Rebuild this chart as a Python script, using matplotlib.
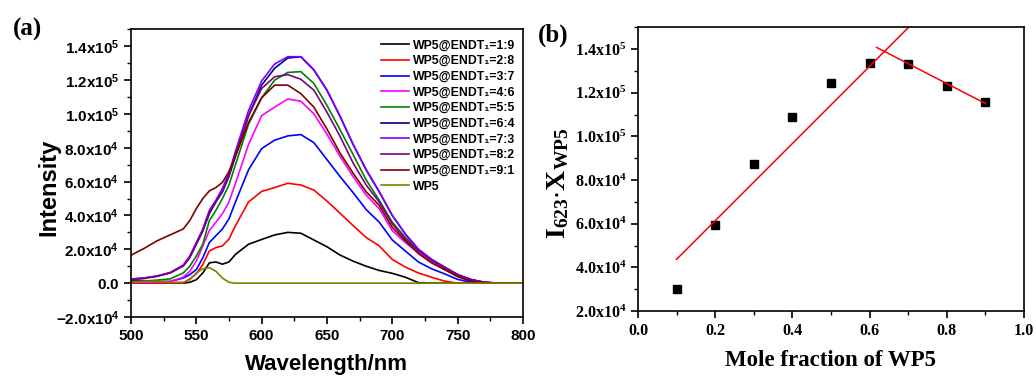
import numpy as np
import matplotlib
matplotlib.use("Agg")
import matplotlib.pyplot as plt
from matplotlib.ticker import MultipleLocator, FuncFormatter

# ---------------- data (panel a, intensity in units of 1e4) ----------------
wavelength = [500, 510, 520, 530, 540, 545, 550, 555, 560, 565,
              570, 575, 580, 590, 600, 610, 620, 630, 640, 650,
              660, 670, 680, 690, 700, 710, 720, 730, 740, 750,
              760, 770, 780, 790, 800]

r1_9 = [0, 0, 0, 0, 0, 0.05, 0.2, 0.6, 1.2, 1.25,
        1.12, 1.25, 1.7, 2.3, 2.58, 2.85, 3.0, 2.95, 2.55, 2.15,
        1.66, 1.3, 1.0, 0.75, 0.58, 0.35, 0.03, 0, 0, 0,
        0, 0, 0, 0, 0]
r2_8 = [0, 0, 0, 0, 0, 0.25, 0.55, 1.1, 1.9, 2.1,
        2.2, 2.6, 3.4, 4.8, 5.42, 5.65, 5.9, 5.8, 5.5, 4.85,
        4.13, 3.4, 2.7, 2.2, 1.4, 0.95, 0.6, 0.35, 0.12, 0,
        0, 0, 0, 0, 0]
r3_7 = [0.15, 0.15, 0.1, 0.1, 0.3, 0.5, 0.8, 1.5, 2.4, 2.8,
        3.2, 3.8, 4.8, 6.7, 7.95, 8.45, 8.7, 8.78, 8.3, 7.3,
        6.3, 5.35, 4.35, 3.6, 2.55, 1.9, 1.25, 0.85, 0.55, 0.22,
        0.06, 0, 0, 0, 0]
r4_6 = [0.05, 0.05, 0.06, 0.1, 0.35, 0.7, 1.3, 2.2, 3.1, 3.6,
        4.1, 4.8, 5.9, 8.2, 9.9, 10.4, 10.88, 10.75, 10.0, 8.8,
        7.49, 6.3, 5.2, 4.4, 3.1, 2.4, 1.8, 1.25, 0.8, 0.45,
        0.18, 0.04, 0, 0, 0]
r5_5 = [0.1, 0.12, 0.18, 0.25, 0.6, 1.0, 1.6, 2.3, 3.7, 4.3,
        5.0, 5.8, 7.0, 9.4, 10.95, 12.0, 12.45, 12.5, 11.8, 10.5,
        9.07, 7.6, 6.1, 4.9, 3.6, 2.7, 1.95, 1.4, 0.9, 0.5,
        0.2, 0.05, 0, 0, 0]
r6_4 = [0.24, 0.3, 0.42, 0.62, 1.05, 1.55, 2.3, 3.1, 4.1, 4.8,
        5.4, 6.3, 7.5, 9.9, 11.7, 12.7, 13.3, 13.38, 12.6, 11.4,
        9.86, 8.2, 6.7, 5.4, 4.0, 2.9, 2.0, 1.4, 0.95, 0.5,
        0.22, 0.06, 0, 0, 0]
r7_3 = [0.24, 0.3, 0.42, 0.62, 1.05, 1.6, 2.4, 3.2, 4.3, 4.9,
        5.6, 6.5, 7.8, 10.2, 11.95, 12.95, 13.38, 13.38, 12.6, 11.4,
        9.86, 8.2, 6.7, 5.4, 4.0, 2.9, 2.0, 1.4, 0.95, 0.5,
        0.22, 0.06, 0, 0, 0]
r8_2 = [0.2, 0.28, 0.4, 0.6, 1.0, 1.5, 2.3, 3.1, 4.2, 4.8,
        5.4, 6.4, 7.6, 9.9, 11.5, 12.2, 12.32, 12.05, 11.4, 10.1,
        8.68, 7.1, 5.8, 4.8, 3.5, 2.6, 1.9, 1.35, 0.9, 0.5,
        0.2, 0.05, 0, 0, 0]
r9_1 = [1.65, 2.05, 2.5, 2.85, 3.2, 3.7, 4.4, 5.0, 5.45, 5.65,
        5.95, 6.6, 7.5, 9.5, 10.95, 11.7, 11.7, 11.2, 10.4, 9.1,
        7.69, 6.5, 5.4, 4.6, 3.3, 2.5, 1.75, 1.2, 0.8, 0.38,
        0.12, 0.02, 0, 0, 0]
wp5 = [0.05, 0.1, 0.1, 0.05, 0.05, 0.2, 0.6, 0.85, 0.92, 0.7,
       0.3, 0.05, 0, 0, 0, 0, 0, 0, 0, 0,
       0, 0, 0, 0, 0, 0, 0, 0, 0, 0,
       0, 0, 0, 0, 0]

series_a = [r1_9, r2_8, r3_7, r4_6, r5_5, r6_4, r7_3, r8_2, r9_1, wp5]
labels_a = ["WP5@ENDT\u2081=1:9", "WP5@ENDT\u2081=2:8", "WP5@ENDT\u2081=3:7",
            "WP5@ENDT\u2081=4:6", "WP5@ENDT\u2081=5:5", "WP5@ENDT\u2081=6:4",
            "WP5@ENDT\u2081=7:3", "WP5@ENDT\u2081=8:2", "WP5@ENDT\u2081=9:1", "WP5"]
colors_a = ["#000000", "#ff0000", "#0000ff", "#ff00ff", "#008000",
            "#000080", "#8000ff", "#800080", "#800000", "#808000"]

# ---------------- data (panel b) ----------------
mole_fraction = [0.1, 0.2, 0.3, 0.4, 0.5, 0.6, 0.7, 0.8, 0.9]
i623_x = [3.02e4, 5.94e4, 8.73e4, 10.9e4, 12.47e4, 13.38e4, 13.32e4, 12.29e4, 11.57e4]
fit1_x = [0.1, 0.7]
fit1_y = [4.37e4, 14.98e4]
fit2_x = [0.618, 0.9]
fit2_y = [14.08e4, 11.51e4]

# ---------------- figure ----------------
fig = plt.figure(figsize=(10.36, 3.78), dpi=100)
fig.patch.set_facecolor("white")


def sci_fmt(v, pos=None):
    if abs(v) < 1e-9:
        return r"$\mathregular{0.0}$"
    e = int(np.floor(np.log10(abs(v)) + 1e-9))
    m = v / 10 ** e
    return r"$\mathregular{%.1fx10^{%d}}$" % (m, e)


# ---- panel a ----
axa = fig.add_axes([0.1264, 0.1614, 0.3784, 0.7611])
wl = np.array(wavelength)
for ys, lab, c in zip(series_a, labels_a, colors_a):
    axa.plot(wl, np.array(ys) * 1e4, color=c, lw=1.2, label=lab)
axa.set_xlim(500, 800)
axa.set_ylim(-2e4, 1.5e5)
axa.xaxis.set_major_locator(MultipleLocator(50))
axa.xaxis.set_minor_locator(MultipleLocator(25))
axa.yaxis.set_major_locator(MultipleLocator(2e4))
axa.yaxis.set_minor_locator(MultipleLocator(1e4))
axa.yaxis.set_major_formatter(FuncFormatter(sci_fmt))
axa.tick_params(which="both", direction="out", top=False, right=False)
axa.tick_params(which="major", length=5, width=1.2)
axa.tick_params(which="minor", length=3, width=1.0)
for lab in axa.get_xticklabels() + axa.get_yticklabels():
    lab.set_fontfamily("Liberation Sans")
    lab.set_fontweight("bold")
    lab.set_fontsize(11)
for sp in axa.spines.values():
    sp.set_linewidth(1.2)
axa.set_xlabel("Wavelength/nm", fontfamily="Liberation Sans", fontweight="bold",
               fontsize=16, labelpad=8)
axa.set_ylabel("Intensity", fontfamily="Liberation Sans", fontweight="bold",
               fontsize=17)
axa.yaxis.set_label_coords(-0.181, 0.45)
leg = axa.legend(loc="upper right", bbox_to_anchor=(1.0, 0.99), frameon=False,
                 prop={"family": ["Liberation Sans", "DejaVu Sans"], "weight": "bold", "size": 8.8},
                 handlelength=2.3, handletextpad=0.3, labelspacing=0.3, borderaxespad=0.2)

# ---- panel b ----
axb = fig.add_axes([0.6158, 0.1772, 0.3726, 0.7506])
axb.plot(mole_fraction, i623_x, ls="none", marker="s", ms=6, color="black")
axb.plot(fit1_x, fit1_y, color="red", lw=1.1)
axb.plot(fit2_x, fit2_y, color="red", lw=1.1)
axb.set_xlim(0.0, 1.0)
axb.set_ylim(2e4, 1.5e5)
axb.xaxis.set_major_locator(MultipleLocator(0.2))
axb.xaxis.set_minor_locator(MultipleLocator(0.1))
axb.yaxis.set_major_locator(MultipleLocator(2e4))
axb.yaxis.set_minor_locator(MultipleLocator(1e4))
axb.yaxis.set_major_formatter(FuncFormatter(sci_fmt))
axb.xaxis.set_major_formatter(FuncFormatter(lambda v, p: "%.1f" % v))
axb.tick_params(which="both", direction="out", top=False, right=False)
axb.tick_params(which="major", length=5, width=1.2)
axb.tick_params(which="minor", length=3, width=1.0)
for lab in axb.get_xticklabels() + axb.get_yticklabels():
    lab.set_fontfamily("Liberation Serif")
    lab.set_fontweight("bold")
    lab.set_fontsize(11.5)
for sp in axb.spines.values():
    sp.set_linewidth(1.2)
axb.set_xlabel("Mole fraction of WP5", fontfamily="Liberation Serif", fontweight="bold",
               fontsize=16.5, labelpad=8)
axb.set_ylabel(r"$\mathregular{I_{623}{\cdot}X_{WP5}}$", fontfamily="Liberation Serif",
               fontweight="bold", fontsize=20)
axb.yaxis.set_label_coords(-0.172, 0.45)

fig.text(0.012, 0.905, "(a)", fontfamily="Liberation Serif", fontweight="bold", fontsize=18)
fig.text(0.519, 0.89, "(b)", fontfamily="Liberation Serif", fontweight="bold", fontsize=18)

fig.savefig("out.png", dpi=100, facecolor="white")
